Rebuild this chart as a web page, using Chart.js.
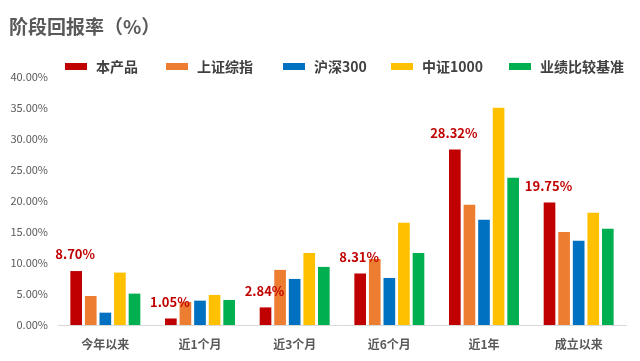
<!DOCTYPE html>
<html><head><meta charset="utf-8">
<script src="https://cdn.jsdelivr.net/npm/chart.js@4/dist/chart.umd.min.js"></script>
<style>html,body{margin:0;padding:0;background:#fff}#w{width:640px;height:361px}</style>
</head><body><div id="w"><canvas id="c" width="640" height="361"></canvas></div>
<script>
const categories = ['今年以来','近1个月','近3个月','近6个月','近1年','成立以来'];
const seriesNames = ['本产品','上证综指','沪深300','中证1000','业绩比较基准'];
const product = [8.70, 1.05, 2.84, 8.31, 28.32, 19.75];
const shIndex = [4.68, 3.72, 8.89, 10.66, 19.39, 15.02];
const hs300 = [1.99, 3.93, 7.43, 7.59, 16.96, 13.57];
const zz1000 = [8.45, 4.85, 11.63, 16.48, 35.06, 18.09];
const benchmark = [5.06, 4.04, 9.37, 11.63, 23.75, 15.51];
const yTicks = [0,5,10,15,20,25,30,35,40];
const colors = ['#C00000','#ED7D31','#0070C0','#FFC000','#00B050'];
const seriesData = [product, shIndex, hs300, zz1000, benchmark];
const FONT = '"Noto Sans CJK SC","Microsoft YaHei",sans-serif';
const legendX = [65, 166, 283, 391, 509];

const decorPlugin = {
  id: 'decor',
  afterDraw(chart) {
    const ctx = chart.ctx;
    ctx.save();
    ctx.font = 'bold 19px ' + FONT;
    ctx.fillStyle = '#595959';
    ctx.textAlign = 'left';
    ctx.textBaseline = 'middle';
    ctx.fillText('阶段回报率（%）', 9, 27);
    ctx.font = 'bold 14px ' + FONT;
    seriesNames.forEach((n, k) => {
      ctx.fillStyle = colors[k];
      ctx.fillRect(legendX[k], 63, 22, 7);
      ctx.fillStyle = '#404040';
      ctx.fillText(n, legendX[k] + 31, 67);
    });
    ctx.restore();
  },
  afterDatasetsDraw(chart) {
    const ctx = chart.ctx;
    const meta = chart.getDatasetMeta(0);
    ctx.save();
    ctx.font = 'bold 13px ' + FONT;
    ctx.fillStyle = '#C00000';
    ctx.textAlign = 'center';
    ctx.textBaseline = 'bottom';
    meta.data.forEach((bar, i) => {
      ctx.fillText(product[i].toFixed(2) + '%', bar.x - 1, bar.y - 10);
    });
    ctx.restore();
  }
};

new Chart(document.getElementById('c'), {
  type: 'bar',
  data: {
    labels: categories,
    datasets: seriesNames.map((n, k) => ({
      label: n,
      data: seriesData[k],
      backgroundColor: colors[k],
      categoryPercentage: 0.77,
      barPercentage: 0.8
    }))
  },
  options: {
    responsive: false,
    animation: false,
    layout: { padding: { left: 0, right: 14, top: 77, bottom: 0 } },
    plugins: {
      title: { display: false },
      legend: { display: false },
      tooltip: { enabled: false }
    },
    scales: {
      x: {
        grid: { display: false, drawTicks: false },
        border: { color: '#D9D9D9', width: 1 },
        afterFit: (s) => { s.height = 36; },
        ticks: { color: '#595959', font: { family: FONT, size: 12, weight: 'bold' }, padding: 12 }
      },
      y: {
        min: 0, max: 40,
        afterBuildTicks: (s) => { s.ticks = yTicks.map(v => ({ value: v })); },
        afterFit: (s) => { s.width = 58; },
        grid: { display: false, drawTicks: false },
        border: { display: false },
        ticks: {
          color: '#595959', font: { family: FONT, size: 11 }, padding: 10,
          callback: (v) => Number(v).toFixed(2) + '%'
        }
      }
    }
  },
  plugins: [decorPlugin]
});
</script></body></html>
